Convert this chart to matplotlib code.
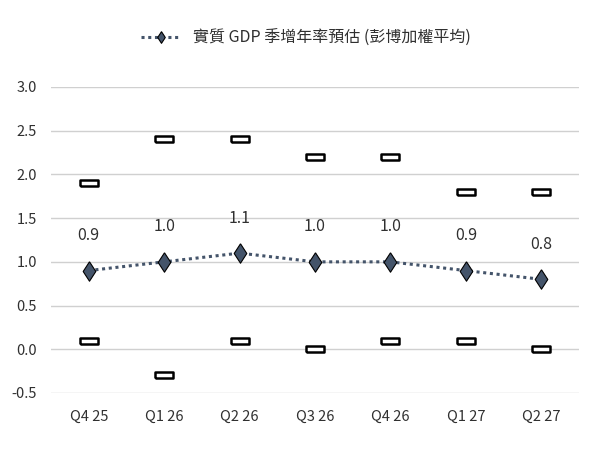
import matplotlib.pyplot as plt
import numpy as np

plt.rcParams['font.family'] = ['Noto Sans CJK TC', 'DejaVu Sans']
plt.rcParams['font.weight'] = 'medium'

quarters = ['Q4 25', 'Q1 26', 'Q2 26', 'Q3 26', 'Q4 26', 'Q1 27', 'Q2 27']
gdp_avg = [0.9, 1.0, 1.1, 1.0, 1.0, 0.9, 0.8]
gdp_high = [1.9, 2.4, 2.4, 2.2, 2.2, 1.8, 1.8]
gdp_low = [0.1, -0.3, 0.1, 0.0, 0.1, 0.1, 0.0]
y_ticks = [-0.5, 0.0, 0.5, 1.0, 1.5, 2.0, 2.5, 3.0]

line_color = '#44546a'
text_color = '#303030'

# custom markers: flat box for high/low, thin diamond for average
box = [(-1.5, -0.5), (1.5, -0.5), (1.5, 0.5), (-1.5, 0.5), (-1.5, -0.5)]
diamond = [(0, 1), (0.65, 0), (0, -1), (-0.65, 0), (0, 1)]

fig = plt.figure(figsize=(6, 4.5), dpi=100)
ax = fig.add_axes([0.085, 0.1267, 0.88, 0.68])

x = np.arange(len(quarters))

ax.plot(x, gdp_high, linestyle='none', marker=box, markersize=13,
        markerfacecolor='white', markeredgecolor='black', markeredgewidth=1.8, zorder=3)
ax.plot(x, gdp_low, linestyle='none', marker=box, markersize=13,
        markerfacecolor='white', markeredgecolor='black', markeredgewidth=1.8, zorder=3)
ax.plot(x, gdp_avg, linestyle=(0, (1, 1.2)), linewidth=2.2, color=line_color,
        marker=diamond, markersize=14, markerfacecolor=line_color,
        markeredgecolor='black', markeredgewidth=0.8, zorder=4,
        label='實質 GDP 季增年率預估 (彭博加權平均)')

for xi, v in zip(x, gdp_avg):
    ax.annotate(f'{v:.1f}', (xi, v), xytext=(0, 19), textcoords='offset points',
                ha='center', va='bottom', fontsize=11.5, color=text_color)

ax.set_xlim(-0.5, len(quarters) - 0.5)
ax.set_ylim(-0.5, 3.0)
ax.set_xticks(x)
ax.set_xticklabels(quarters, fontsize=10.5, color=text_color)
ax.set_yticks(y_ticks)
ax.set_yticklabels([f'{t:.1f}' for t in y_ticks], fontsize=10.5, color=text_color)
ax.tick_params(length=0, pad=10)
ax.tick_params(axis='x', pad=12)
ax.grid(axis='y', color='#d0d0d0', linewidth=1)
ax.set_axisbelow(True)
for s in ax.spines.values():
    s.set_visible(False)

fig.legend(loc='center', bbox_to_anchor=(0.51, 0.915), frameon=False,
           fontsize=11.5, handlelength=2.5, markerscale=0.6, labelcolor=text_color)

fig.savefig('out.png', dpi=100)
